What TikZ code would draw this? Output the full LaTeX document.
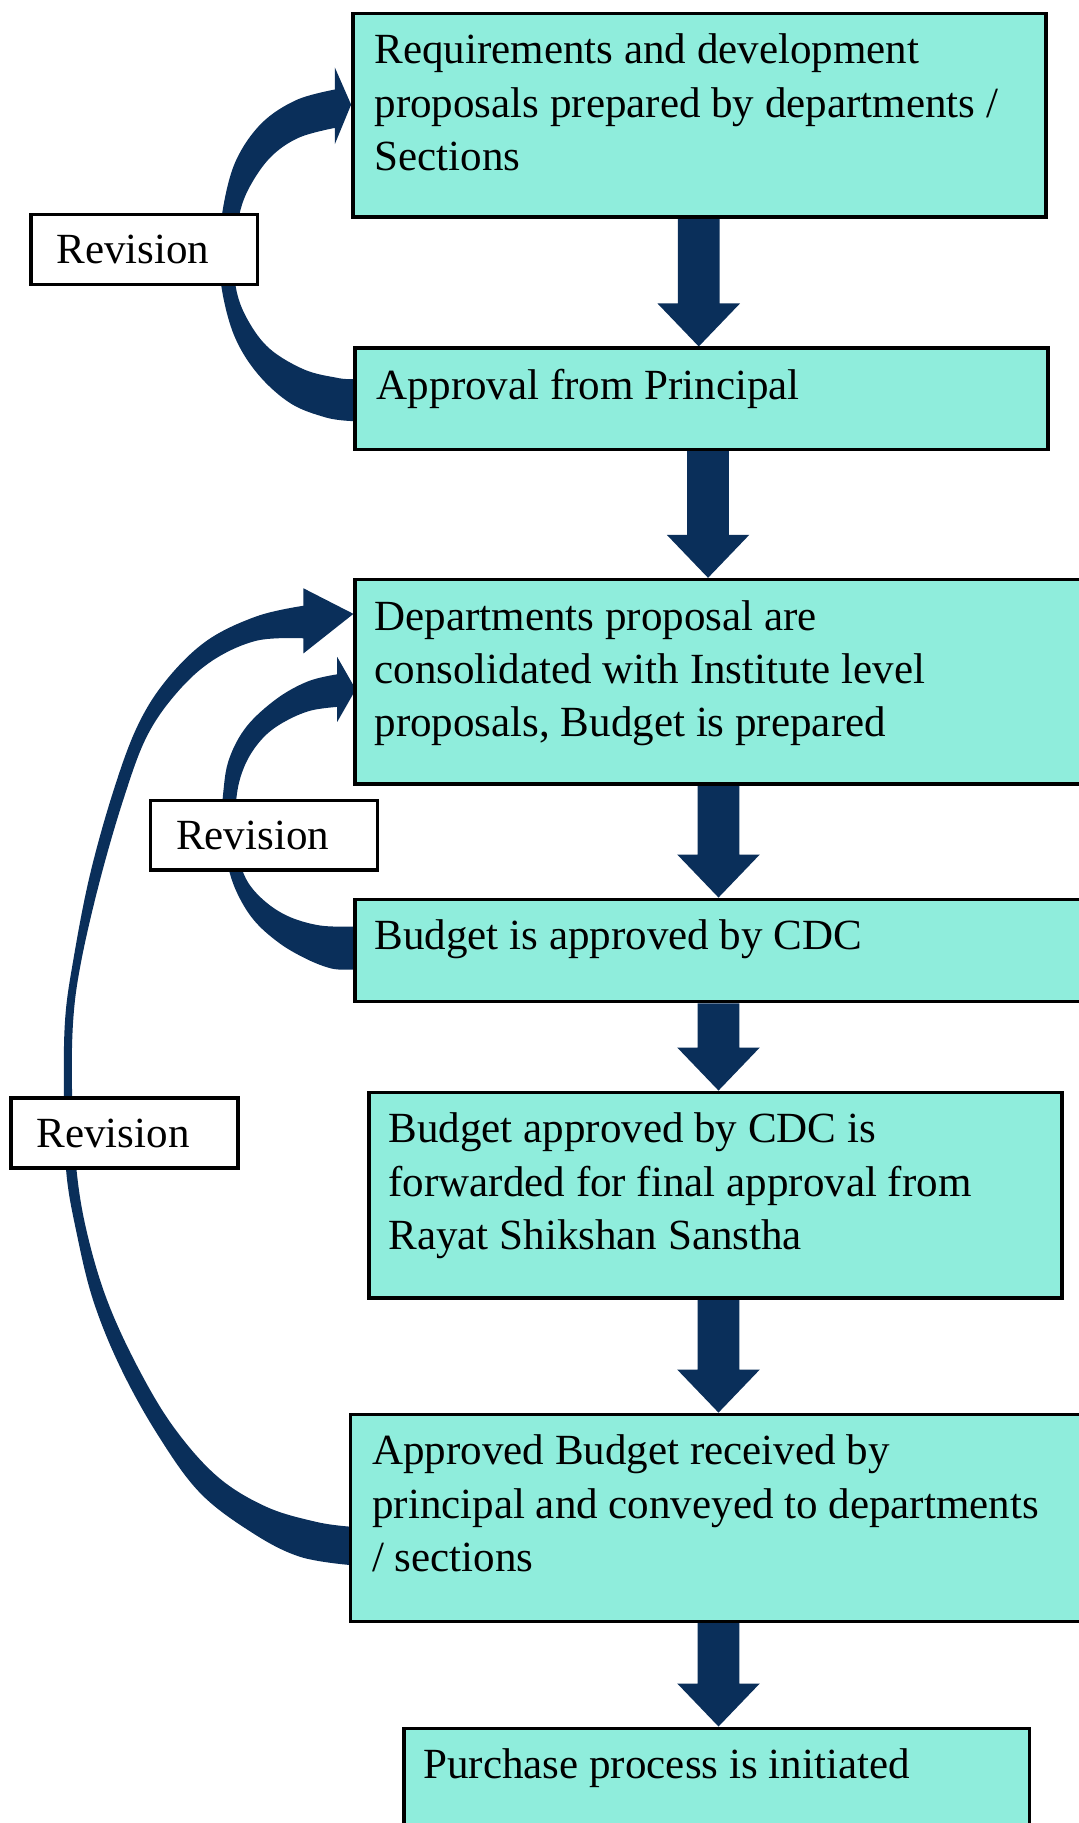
\documentclass[tikz,border=0pt]{standalone}
\usepackage{fontspec}
\setmainfont{Liberation Serif}
\usetikzlibrary{calc}
\pgfdeclarelayer{bg}
\pgfsetlayers{bg,main}
\definecolor{boxfill}{RGB}{143,237,220}
\definecolor{arrowcol}{RGB}{10,47,90}
\tikzset{
  stepbox/.style={draw=black, line width=3pt, fill=boxfill, rectangle, inner sep=0pt, anchor=north west},
  boxtext/.style={anchor=north west, inner sep=0pt, align=left, font=\fontsize{37}{46}\selectfont},
  revbox/.style={draw=black, line width=3pt, fill=white, rectangle, inner xsep=22pt, inner ysep=0pt,
    text width=151pt, align=left, minimum height=60pt, anchor=north west, font=\fontsize{37}{46}\selectfont},
  blockfill/.style={fill=arrowcol},
}
\newcommand\downblock[3]{%
  \fill[blockfill] let \p1=(#2.south), \p2=(#3.north) in
  (#1pt-18pt,\y1) -- (#1pt+18pt,\y1) -- (#1pt+18pt,\y2+37pt) -- (#1pt+35.5pt,\y2+37pt)
  -- (#1pt,\y2) -- (#1pt-35.5pt,\y2+37pt) -- (#1pt-18pt,\y2+37pt) -- cycle;}
\begin{document}
\begin{tikzpicture}[x=1pt,y=-1pt]
\useasboundingbox (0,0) rectangle (928,1568);

% main boxes
\node[stepbox, minimum width=596pt, minimum height=175pt] (b1) at (302,10) {};
\node[stepbox, minimum width=596pt, minimum height=87pt] (b2) at (304,298) {};
\node[stepbox, minimum width=628pt, minimum height=176pt] (b3) at (304,497) {};
\node[stepbox, minimum width=628pt, minimum height=88pt] (b4) at (304,772) {};
\node[stepbox, minimum width=596pt, minimum height=177pt] (b5) at (316,938) {};
\node[stepbox, minimum width=632pt, minimum height=178pt] (b6) at (300,1215) {};
\node[stepbox, minimum width=538pt, minimum height=100pt] (b7) at (346,1485) {};

% texts
\node[boxtext] (t1) at ($(b1.north west)+(20,19)$) {Requirements and development\\proposals prepared by departments /\\Sections};
\node[boxtext] (t2) at ($(b2.north west)+(20,19)$) {Approval from Principal};
\node[boxtext] (t3) at ($(b3.north west)+(18,19)$) {Departments proposal are\\consolidated with Institute level\\proposals, Budget is prepared};
\node[boxtext] (t4) at ($(b4.north west)+(18,19)$) {Budget is approved by CDC};
\node[boxtext] (t5) at ($(b5.north west)+(18,19)$) {Budget approved by CDC is\\forwarded for final approval from\\Rayat Shikshan Sanstha};
\node[boxtext] (t6) at ($(b6.north west)+(20,19)$) {Approved Budget received by\\principal and conveyed to departments\\/ sections};
\node[boxtext] (t7) at ($(b7.north west)+(18,19)$) {Purchase process is initiated};

% revision labels
\node[revbox] (r1) at (25,183) {Revision};
\node[revbox] (r2) at (128,687) {Revision};
\node[revbox] (r3) at (8,943) {Revision};

\begin{pgfonlayer}{bg}
\fill[white] (0,0) rectangle (928,1568);
% straight block arrows
\downblock{601}{b1}{b2}
\downblock{609}{b2}{b3}
\downblock{618}{b3}{b4}
\downblock{618}{b4}{b5}
\downblock{618}{b5}{b6}
\downblock{618}{b6}{b7}

% curved revision arrow 1 (b2 -> b1)
\fill[blockfill] (312,363) -- plot[smooth, tension=0.6] coordinates {(300,362) (280,359) (250,347) (222,322) (202,290) (191,250) (189,215) (192,178) (203,138) (225,106) (255,86) (288,77)}
  -- (288,58) -- (302,90) -- (288,124)
  -- plot[smooth, tension=0.6] coordinates {(288,110) (258,118) (235,133) (218,155) (207,180) (202,215) (203,248) (213,275) (232,300) (262,318) (290,325) (300,326)}
  -- (312,326) -- cycle;

% curved revision arrow 2 (b4 -> b3)
\fill[blockfill] (312,834) -- plot[smooth, tension=0.6] coordinates {(300,834) (285,833) (264,825) (240,811) (218,791) (203,766) (195,740) (191,710) (192,682) (197,653) (212,625) (238,601) (265,586) (290,580)}
  -- (290,565) -- (306,593) -- (290,621)
  -- plot[smooth, tension=0.6] coordinates {(290,608) (268,611) (248,619) (230,631) (216,648) (207,668) (203,690) (203,715) (206,740) (214,760) (230,777) (250,789) (275,796) (300,797)}
  -- (312,797) -- cycle;

% curved revision arrow 3 (b6 -> b3)
\fill[blockfill] (312,1347) -- plot[smooth, tension=0.6] coordinates {(300,1346) (258,1339) (218,1319) (172,1284) (135,1233) (103,1175) (80,1118) (66,1061) (57,1008) (55,940) (56,877) (63,826) (77,754) (97,682) (118,625) (143,585) (178,551) (221,530) (261,521)}
  -- (261,506) -- (304,528) -- (261,562)
  -- plot[smooth, tension=0.6] coordinates {(261,549) (221,551) (183,568) (152,596) (126,634) (106,688) (86,757) (70,826) (63,877) (62,940) (66,1008) (75,1061) (92,1118) (118,1175) (149,1227) (187,1270) (229,1296) (272,1309) (300,1313)}
  -- (312,1313) -- cycle;
\end{pgfonlayer}
\end{tikzpicture}
\end{document}
